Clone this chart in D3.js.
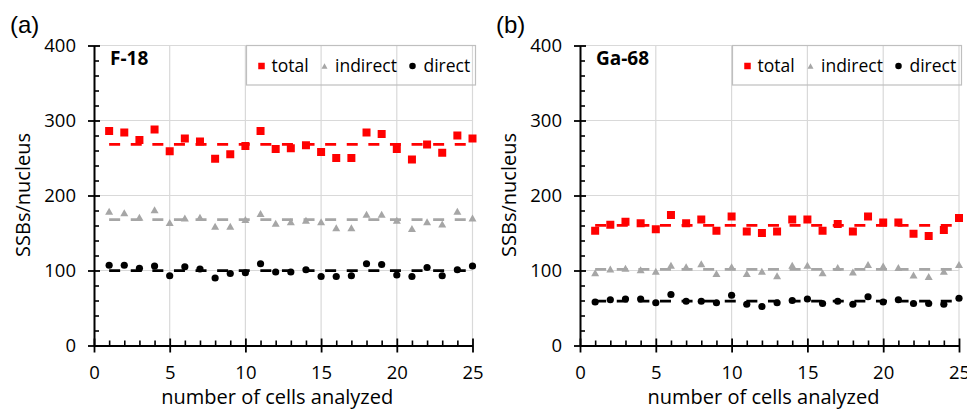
<!DOCTYPE html>
<html>
<head>
<meta charset="utf-8">
<script src="https://cdn.jsdelivr.net/npm/d3@7"></script>
<style>
  html, body { margin: 0; padding: 0; background: #fff; }
  svg { display: block; }
  text { font-family: "Open Sans", sans-serif; fill: #000; }
</style>
</head>
<body>
<svg id="chart" width="967" height="409"></svg>
<script>
// Cell index (x) for every measured nucleus
const cells = [1, 2, 3, 4, 5, 6, 7, 8, 9, 10, 11, 12, 13, 14, 15, 16, 17, 18, 19, 20, 21, 22, 23, 24, 25];

// F-18: single-strand breaks per nucleus
const f18Total    = [286, 284, 274, 288, 259, 276, 272, 249, 255, 266, 286, 262, 263, 267, 258, 250, 250, 284, 282, 262, 248, 268, 257, 280, 276];
const f18Indirect = [179, 177, 171, 181, 164, 170, 171, 159, 159, 168, 176, 163, 165, 167, 165, 157, 157, 175, 175, 167, 156, 165, 162, 179, 170];
const f18Direct   = [107, 107, 103, 106, 93, 105, 102, 90, 96, 97, 109, 98, 98, 101, 92, 92, 93, 109, 108, 94, 92, 104, 93, 101, 106];

// Ga-68: single-strand breaks per nucleus
const ga68Total    = [153, 161, 165, 163, 155, 174, 163, 168, 153, 172, 152, 150, 152, 168, 168, 153, 162, 152, 172, 164, 164, 149, 146, 154, 170];
const ga68Indirect = [97, 102, 103, 101, 99, 107, 105, 109, 96, 105, 96, 99, 93, 107, 107, 97, 104, 98, 108, 106, 104, 94, 92, 99, 108];
const ga68Direct   = [58, 61, 62, 62, 57, 68, 59, 59, 57, 67, 55, 52, 57, 60, 62, 56, 59, 55, 65, 58, 61, 56, 56, 55, 63];

// Axis ticks
const xMajorTicks = [0, 5, 10, 15, 20, 25];
const yMajorTicks = [0, 100, 200, 300, 400];
const seriesNames = ["total", "indirect", "direct"];

const panels = [
  { tag: "(a)", isotope: "F-18",  left: 94,  right: 472.5, series: [f18Total, f18Indirect, f18Direct] },
  { tag: "(b)", isotope: "Ga-68", left: 580, right: 959,   series: [ga68Total, ga68Indirect, ga68Direct] }
];

const colors = ["#ff0000", "#a6a6a6", "#000000"];
const plotTop = 45.5, plotBottom = 345.5;

const svg = d3.select("#chart");

// marker painters: square, triangle, circle
function drawMarker(g, kind, cx, cy, s, color) {
  if (kind === 0) {
    g.append("rect").attr("x", cx - s / 2).attr("y", cy - s / 2)
      .attr("width", s).attr("height", s).attr("fill", color);
  } else if (kind === 1) {
    const w = s, h = s * 0.88;
    g.append("path")
      .attr("d", `M${cx},${cy - h / 2}L${cx + w / 2},${cy + h / 2}L${cx - w / 2},${cy + h / 2}Z`)
      .attr("fill", color);
  } else {
    g.append("circle").attr("cx", cx).attr("cy", cy).attr("r", s / 2).attr("fill", color);
  }
}

panels.forEach(p => {
  const x = d3.scaleLinear().domain([0, 25]).range([p.left, p.right]);
  const y = d3.scaleLinear().domain([0, 400]).range([plotBottom, plotTop]);
  const g = svg.append("g");

  // gridlines
  g.append("g").selectAll("line").data(yMajorTicks.slice(1)).join("line")
    .attr("x1", x(0)).attr("x2", x(25)).attr("y1", d => y(d)).attr("y2", d => y(d))
    .attr("stroke", "#d9d9d9").attr("stroke-width", 1.2);
  g.append("g").selectAll("line").data(xMajorTicks.slice(1)).join("line")
    .attr("x1", d => x(d)).attr("x2", d => x(d)).attr("y1", y(0)).attr("y2", y(400))
    .attr("stroke", "#d9d9d9").attr("stroke-width", 1.2);

  // minor ticks (inward)
  const xMinor = cells.filter(c => c % 5 !== 0);
  g.append("g").attr("transform", `translate(0,${y(0)})`)
    .call(d3.axisBottom(x).tickValues(xMinor).tickSize(-5).tickFormat(""))
    .call(a => a.select(".domain").remove())
    .call(a => a.selectAll("line").attr("stroke-width", 1.6));
  const yMinor = d3.range(20, 400, 20).filter(v => v % 100 !== 0);
  g.append("g").attr("transform", `translate(${x(0)},0)`)
    .call(d3.axisLeft(y).tickValues(yMinor).tickSize(-5).tickFormat(""))
    .call(a => a.select(".domain").remove())
    .call(a => a.selectAll("line").attr("stroke-width", 1.6));

  // major axes
  const xAxis = g.append("g").attr("transform", `translate(0,${y(0)})`)
    .call(d3.axisBottom(x).tickValues(xMajorTicks).tickSizeOuter(0).tickPadding(14));
  xAxis.selectAll(".tick line").attr("y1", -7).attr("y2", 7).attr("stroke-width", 1.8);
  xAxis.select(".domain").attr("stroke-width", 2);
  xAxis.selectAll("text").style("font-size", "18.5px");

  const yAxis = g.append("g").attr("transform", `translate(${x(0)},0)`)
    .call(d3.axisLeft(y).tickValues(yMajorTicks).tickSizeOuter(0).tickPadding(12));
  yAxis.selectAll(".tick line").attr("x1", -6).attr("x2", 6).attr("stroke-width", 1.8);
  yAxis.select(".domain").attr("stroke-width", 2);
  yAxis.selectAll("text").style("font-size", "18.5px");
  yAxis.selectAll(".tick text").attr("x", -18);

  // average lines (dashed)
  p.series.forEach((vals, i) => {
    const m = d3.mean(vals);
    g.append("line")
      .attr("x1", x(cells[0])).attr("x2", x(cells[cells.length - 1]))
      .attr("y1", y(m)).attr("y2", y(m))
      .attr("stroke", colors[i]).attr("stroke-width", 2.8)
      .attr("stroke-dasharray", "11,10.6");
  });

  // markers
  p.series.forEach((vals, i) => {
    const mg = g.append("g");
    vals.forEach((v, k) => drawMarker(mg, i, x(cells[k]), y(v), i === 2 ? 7.2 : 8, colors[i]));
  });

  // legend box
  const lx = x(0) + 152.5, lw = 229;
  g.append("rect").attr("x", lx).attr("y", 45.5).attr("width", lw).attr("height", 39.5)
    .attr("fill", "none").attr("stroke", "#bfbfbf").attr("stroke-width", 1.2);
  const legendItems = [
    { mx: 15, tx: 25 },
    { mx: 78, tx: 88.5 },
    { mx: 166, tx: 177 }
  ];
  legendItems.forEach((it, i) => {
    drawMarker(g, i, lx + it.mx, 66, i === 1 ? 6 : 6.5, colors[i]);
    g.append("text").attr("x", lx + it.tx).attr("y", 72)
      .style("font-size", "17.5px").text(seriesNames[i]);
  });

  // isotope label
  g.append("text").attr("x", x(0) + 16).attr("y", 65)
    .style("font-size", "19px").style("font-weight", "bold").text(p.isotope);

  // panel tag
  g.append("text").attr("x", x(0) - 84).attr("y", 33)
    .style("font-family", "'Liberation Sans', Arial, sans-serif")
    .style("font-size", "24px").text(p.tag);

  // axis titles
  g.append("text").attr("x", (x(0) + x(25)) / 2 - 6).attr("y", 404)
    .attr("text-anchor", "middle").style("font-size", "20px")
    .text("number of cells analyzed");
  g.append("text")
    .attr("transform", `translate(${x(0) - 64},${195}) rotate(-90)`)
    .attr("text-anchor", "middle").style("font-size", "20px")
    .text("SSBs/nucleus");
});
</script>
</body>
</html>
